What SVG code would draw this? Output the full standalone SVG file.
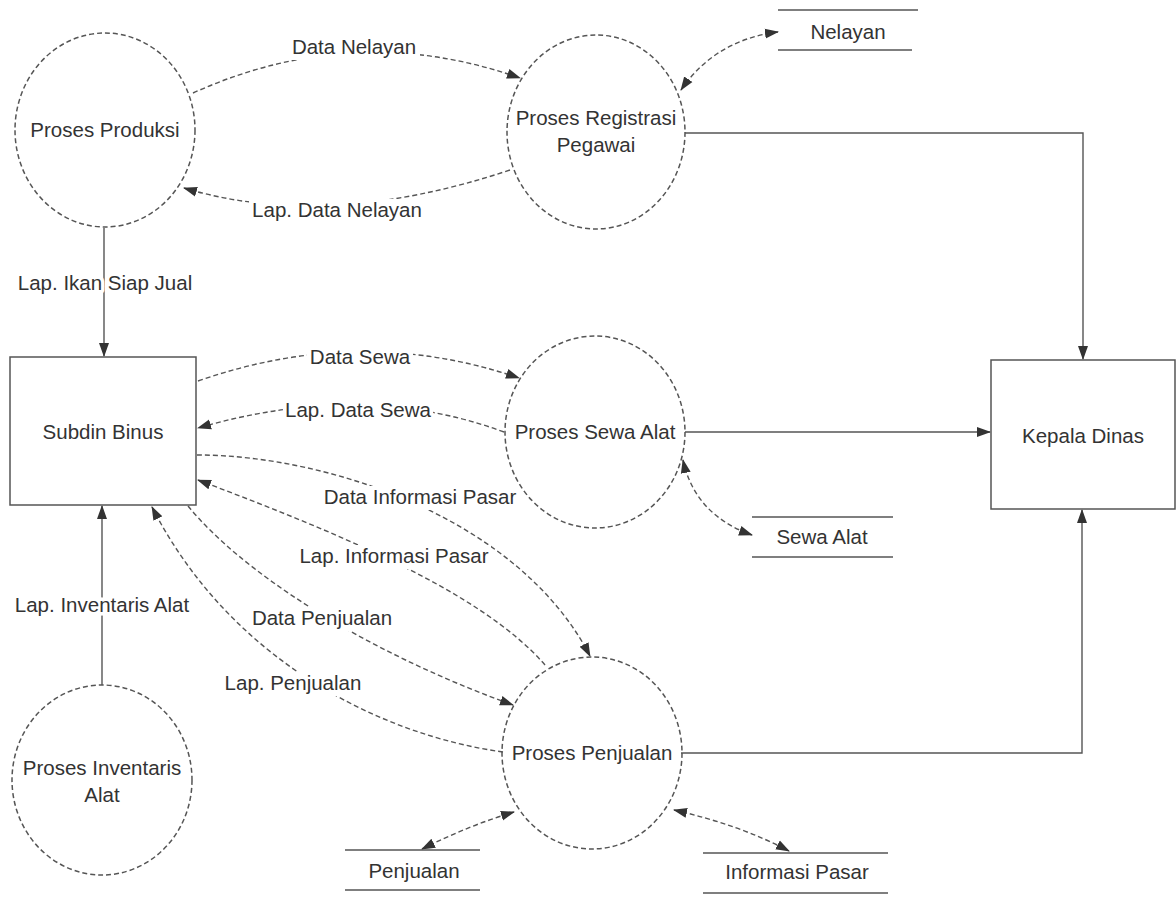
<svg xmlns="http://www.w3.org/2000/svg" width="1176" height="897" viewBox="0 0 1176 897">
<style>
.bg{fill:#ffffff}
.proc{fill:none;stroke:#555;stroke-width:1.5;stroke-dasharray:5 3}
.ent{fill:none;stroke:#555;stroke-width:1.5}
.store{stroke:#555;stroke-width:1.5}
.t{font-family:"Liberation Sans",Arial,sans-serif;font-size:20.5px;fill:#333;text-anchor:middle}
.lbl{font-family:"Liberation Sans",Arial,sans-serif;font-size:20.5px;fill:#333;text-anchor:middle;stroke:#fff;stroke-width:7;paint-order:stroke;stroke-linejoin:round}
.lb{fill:#fff}
.flow{fill:none;stroke:#555;stroke-width:1.4;stroke-dasharray:5 3}
.solid{fill:none;stroke:#555;stroke-width:1.4}
</style>
<defs>
<marker id="ah" markerUnits="userSpaceOnUse" markerWidth="14" markerHeight="12" refX="13" refY="5" orient="auto-start-reverse" viewBox="0 0 14 10">
<path d="M0,0 L14,5 L0,10 z" fill="#333"/>
</marker>
</defs>
<rect class="bg" x="0" y="0" width="1176" height="897"/>

<g id="connectors">
<path class="flow" d="M193,93 Q355,20 520,78" marker-end="url(#ah)"/>
<path class="flow" d="M510,170 Q327,231 184,188" marker-end="url(#ah)"/>
<path class="solid" d="M104,228 L104,356" marker-end="url(#ah)"/>
<path class="flow" d="M681,90 Q715,40 778,32" marker-start="url(#ah)" marker-end="url(#ah)"/>
<path class="solid" d="M685,133 H1083 V359" marker-end="url(#ah)"/>
<path class="flow" d="M198,381 Q361,324 519,378" marker-end="url(#ah)"/>
<path class="flow" d="M504,432 Q363,380 198,428" marker-end="url(#ah)"/>
<path class="solid" d="M685,432 H990" marker-end="url(#ah)"/>
<path class="flow" d="M683,460 Q695,515 752,535" marker-start="url(#ah)" marker-end="url(#ah)"/>
<path class="flow" d="M197,455 C330,455 520,520 590,656" marker-end="url(#ah)"/>
<path class="flow" d="M545,665 C480,590 330,530 198,480" marker-end="url(#ah)"/>
<path class="flow" d="M188,506 C240,570 360,650 513,705" marker-end="url(#ah)"/>
<path class="flow" d="M503,752 C380,735 230,660 152,507" marker-end="url(#ah)"/>
<path class="solid" d="M681,753 H1082 V510" marker-end="url(#ah)"/>
<path class="solid" d="M102,685 V506" marker-end="url(#ah)"/>
<path class="flow" d="M422,849 Q470,825 514,812" marker-start="url(#ah)" marker-end="url(#ah)"/>
<path class="flow" d="M674,810 Q740,825 789,851" marker-start="url(#ah)" marker-end="url(#ah)"/>
<rect class="lb" x="288" y="36" width="132" height="24"/>
<rect class="lb" x="249" y="199" width="176" height="24"/>
<rect class="lb" x="307" y="346" width="106" height="24"/>
<rect class="lb" x="283" y="399" width="150" height="24"/>
<rect class="lb" x="322" y="486" width="196" height="24"/>
<rect class="lb" x="298" y="545" width="193" height="24"/>
<rect class="lb" x="250" y="607" width="144" height="24"/>
<rect class="lb" x="223" y="672" width="140" height="24"/>
<text class="lbl" x="354" y="54">Data Nelayan</text>
<text class="lbl" x="337" y="217">Lap. Data Nelayan</text>
<text class="lbl" x="105" y="290">Lap. Ikan Siap Jual</text>
<text class="lbl" x="360" y="364">Data Sewa</text>
<text class="lbl" x="358" y="417">Lap. Data Sewa</text>
<text class="lbl" x="420" y="504">Data Informasi Pasar</text>
<text class="lbl" x="394" y="563">Lap. Informasi Pasar</text>
<text class="lbl" x="102" y="612">Lap. Inventaris Alat</text>
<text class="lbl" x="322" y="625">Data Penjualan</text>
<text class="lbl" x="293" y="690">Lap. Penjualan</text>
</g>

<g id="proses-produksi">
<ellipse class="proc" cx="105" cy="130" rx="90" ry="97"/>
<text class="t" x="105" y="137">Proses Produksi</text>
</g>
<g id="proses-registrasi">
<ellipse class="proc" cx="596" cy="132" rx="89" ry="97"/>
<text class="t" x="596" y="125">Proses Registrasi</text>
<text class="t" x="596" y="152">Pegawai</text>
</g>
<g id="store-nelayan">
<line class="store" x1="778" y1="10" x2="918" y2="10"/>
<line class="store" x1="778" y1="50" x2="912" y2="50"/>
<text class="t" x="848" y="39">Nelayan</text>
</g>
<g id="subdin-binus">
<rect class="ent" x="10" y="357" width="186" height="148"/>
<text class="t" x="103" y="439">Subdin Binus</text>
</g>
<g id="proses-sewa-alat">
<ellipse class="proc" cx="595" cy="432" rx="90" ry="96"/>
<text class="t" x="595" y="439">Proses Sewa Alat</text>
</g>
<g id="kepala-dinas">
<rect class="ent" x="991" y="360" width="184" height="149"/>
<text class="t" x="1083" y="443">Kepala Dinas</text>
</g>
<g id="store-sewa-alat">
<line class="store" x1="752" y1="517" x2="893" y2="517"/>
<line class="store" x1="752" y1="557" x2="893" y2="557"/>
<text class="t" x="822" y="544">Sewa Alat</text>
</g>
<g id="proses-penjualan">
<ellipse class="proc" cx="592" cy="753" rx="90" ry="96"/>
<text class="t" x="592" y="760">Proses Penjualan</text>
</g>
<g id="proses-inventaris">
<ellipse class="proc" cx="102" cy="780" rx="90" ry="95"/>
<text class="t" x="102" y="775">Proses Inventaris</text>
<text class="t" x="102" y="802">Alat</text>
</g>
<g id="store-penjualan">
<line class="store" x1="345" y1="850" x2="480" y2="850"/>
<line class="store" x1="345" y1="890" x2="480" y2="890"/>
<text class="t" x="414" y="878">Penjualan</text>
</g>
<g id="store-informasi-pasar">
<line class="store" x1="703" y1="853" x2="888" y2="853"/>
<line class="store" x1="703" y1="893" x2="888" y2="893"/>
<text class="t" x="797" y="879">Informasi Pasar</text>
</g>
</svg>
